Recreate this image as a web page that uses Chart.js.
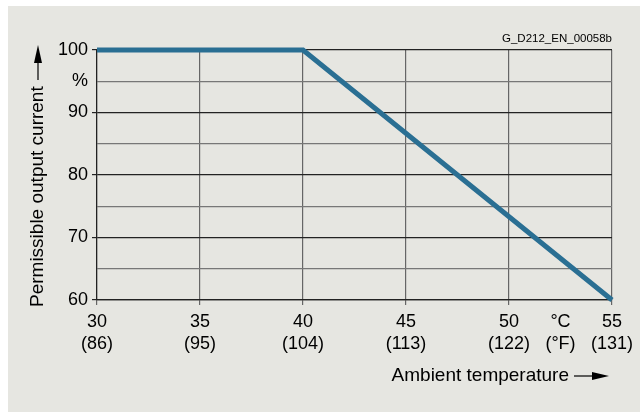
<!DOCTYPE html>
<html>
<head>
<meta charset="utf-8">
<script src="https://cdn.jsdelivr.net/npm/chart.js@4/dist/chart.umd.min.js"></script>
<style>
  html, body { margin: 0; padding: 0; background: #fff; }
  #wrap { position: absolute; left: 8px; top: 6px; width: 632px; height: 406px; background: #e6e6e1; }
</style>
</head>
<body>
<div id="wrap"><canvas id="chart" width="632" height="406"></canvas></div>
<script>
// data
const temps = [30, 40, 55];
const current = [100, 100, 60];
const xTicks = [30, 35, 40, 45, 50, 52.5, 55];
const xLabels = [["30", "(86)"], ["35", "(95)"], ["40", "(104)"], ["45", "(113)"], ["50", "(122)"], ["°C", "(°F)"], ["55", "(131)"]];
const yLabels = { 100: "100", 95: "%", 90: "90", 80: "80", 70: "70", 60: "60" };

const FONT = "'Liberation Sans', Arial, sans-serif";

const extras = {
  id: "extras",
  afterDraw(chart) {
    const ctx = chart.ctx;
    const area = chart.chartArea;
    ctx.save();
    ctx.fillStyle = "#000";
    ctx.strokeStyle = "#000";
    ctx.lineWidth = 1.2;

    // drawing code
    ctx.font = "11.5px " + FONT;
    ctx.textAlign = "right";
    ctx.textBaseline = "alphabetic";
    ctx.fillText("G_D212_EN_00058b", area.right, 36);

    // x title + arrow
    ctx.font = "19px " + FONT;
    ctx.textAlign = "right";
    ctx.textBaseline = "middle";
    ctx.fillText("Ambient temperature", 561, 370);
    ctx.beginPath();
    ctx.moveTo(566, 370);
    ctx.lineTo(586, 370);
    ctx.stroke();
    ctx.beginPath();
    ctx.moveTo(601, 370);
    ctx.lineTo(584, 366);
    ctx.lineTo(584, 374);
    ctx.closePath();
    ctx.fill();

    // y title + arrow
    ctx.translate(30, 0);
    ctx.rotate(-Math.PI / 2);
    ctx.textAlign = "left";
    ctx.fillText("Permissible output current", -301, 0);
    ctx.beginPath();
    ctx.moveTo(-74, 0);
    ctx.lineTo(-55, 0);
    ctx.stroke();
    ctx.beginPath();
    ctx.moveTo(-39, 0);
    ctx.lineTo(-57, -4);
    ctx.lineTo(-57, 4);
    ctx.closePath();
    ctx.fill();
    ctx.restore();
  }
};

new Chart(document.getElementById("chart"), {
  type: "line",
  data: {
    datasets: [{
      data: temps.map((t, i) => ({ x: t, y: current[i] })),
      borderColor: "#2a6f93",
      borderWidth: 5,
      pointRadius: 0,
      tension: 0,
      clip: false
    }]
  },
  options: {
    responsive: false,
    animation: false,
    layout: { padding: { top: 44, right: 28, bottom: 0, left: 0 } },
    plugins: { legend: { display: false }, tooltip: { enabled: false } },
    scales: {
      x: {
        type: "linear",
        min: 30,
        max: 55,
        afterBuildTicks(scale) { scale.ticks = xTicks.map(v => ({ value: v })); },
        afterFit(scale) { scale.height = 112; },
        ticks: {
          autoSkip: false,
          maxRotation: 0,
          padding: 6,
          color: "#000",
          font: { family: FONT, size: 18, lineHeight: 1.22 },
          callback: (v) => xLabels[xTicks.indexOf(v)]
        },
        grid: {
          color: (c) => c.tick && c.tick.value === 52.5 ? "rgba(0,0,0,0)" : "#666",
          tickLength: 5,
          lineWidth: 1.2
        },
        border: { color: "#222", width: 1.2 }
      },
      y: {
        min: 60,
        max: 100,
        afterBuildTicks(scale) {
          const t = [];
          for (let v = 60; v <= 100; v += 5) t.push({ value: v });
          scale.ticks = t;
        },
        afterFit(scale) { scale.width = 89; },
        ticks: {
          autoSkip: false,
          padding: 4,
          color: "#000",
          font: { family: FONT, size: 18 },
          callback: (v) => yLabels[v] || ""
        },
        grid: {
          color: (c) => c.tick && c.tick.value % 10 === 0 ? "#222" : "#777",
          tickColor: (c) => c.tick && c.tick.value % 10 === 0 ? "#222" : "rgba(0,0,0,0)",
          tickLength: 5,
          lineWidth: 1.2
        },
        border: { color: "#222", width: 1.2 }
      }
    }
  },
  plugins: [extras]
});
</script>
</body>
</html>
